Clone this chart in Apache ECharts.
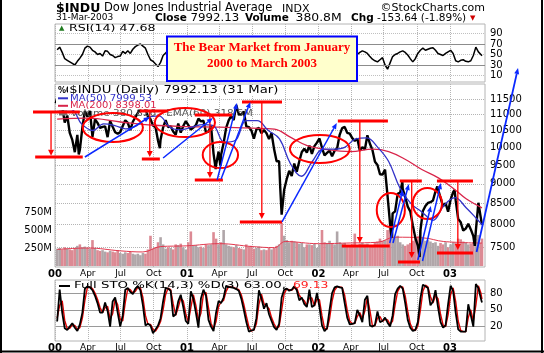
<!DOCTYPE html>
<html>
<head>
<meta charset="utf-8">
<script src="https://cdn.jsdelivr.net/npm/echarts@6.0.0/dist/echarts.min.js"></script>
<style>
html,body{margin:0;padding:0;background:#fff;}
#chart{width:544px;height:353px;}
</style>
</head>
<body>
<div id="chart"></div>
<script>
// ---------------- data ----------------
const firstWeek = '2000-01-07';   // weekly points (Fridays), last point is 31-Mar-2003
const lastDate = '2003-03-31';

const weeklyClose = [
11522,11722,11251,10739,10963,10425,10219,9862,10367,9929,10595,11112,10922,11111,10306,10844,10734,10577,10610,10627,10300,10794,10614,10449,10405,10448,10636,10813,10733,10512,10768,10908,11046,11192,11238,11195,10927,10847,10651,10596,10192,10226,10590,10817,10602,10630,10470,10373,10712,10435,10635,10787,
10662,10525,10587,10660,10864,10781,10799,10441,10466,10644,9823,9504,9879,9791,10127,10579,10811,10951,10822,11301,11005,10990,11091,10623,10604,10502,10253,10539,10577,10417,10512,10416,10241,10424,9950,9606,9606,8236,8848,9120,9345,9205,9545,9324,9608,9867,9960,9852,10049,9812,10035,10137,
10260,9988,9772,9841,9908,9745,9904,9969,10369,10573,10608,10427,10404,10271,10191,10257,9911,10007,9940,10354,10105,9925,9590,9503,9254,9243,9380,8685,8019,8264,8313,8745,8778,8872,8664,8427,8312,7986,7701,7529,7850,8322,8444,8518,8537,8579,8805,8896,8646,8434,8511,8304,
8602,8785,8587,8131,8054,7865,7909,8018,7891,7740,7859,8522,8146,7992.13
];
const intraweekPoints = [
['2000-01-03',11357],['2000-03-07',9796],['2000-09-06',11310],['2000-10-18',9975],
['2001-03-22',9389],['2001-04-04',9485],['2001-05-21',11337],['2001-09-17',8921],
['2002-03-19',10635],['2002-07-23',7702],['2002-08-22',9053],['2002-10-09',7286],
['2002-11-27',8931],['2003-01-14',8842],['2003-03-11',7524]
];
const weeklyVolumeM = [
240,250,230,260,240,230,220,250,280,300,260,270,250,240,360,250,220,210,220,200,190,210,200,190,220,180,170,190,180,200,170,160,170,150,180,170,230,420,240,260,330,400,300,240,260,250,230,300,290,310,260,230,
330,480,280,290,260,270,250,300,290,300,470,380,300,330,500,300,280,270,260,290,250,240,230,300,270,280,240,250,270,220,230,220,250,230,250,280,300,600,420,360,330,350,340,330,310,320,260,300,300,290,310,250,
300,500,330,320,350,310,300,480,330,310,320,290,280,300,450,290,310,320,300,310,290,280,330,340,380,350,360,500,600,480,400,420,330,300,280,300,320,350,380,420,500,400,350,360,340,320,330,280,320,300,330,260,
300,330,320,380,370,340,330,300,310,330,380,430,320,381
];
const rsi14 = [
59,64,54,42,39,36,33,30,37,43,50,62,66,64,58,55,50,52,47,57,56,50,48,44,46,47,56,52,57,52,60,65,68,70,66,62,50,40,37,32,27,35,48,53,58,50,52,45,44,55,48,56,
52,48,51,54,60,56,57,42,44,52,32,27,40,38,52,60,64,66,62,70,60,58,60,45,44,42,38,50,52,46,50,46,40,48,34,28,28,18,40,52,58,54,60,52,60,64,66,60,64,55,62,64,
66,52,45,48,51,45,52,55,68,70,69,60,59,55,50,50,54,57,55,52,46,41,38,36,40,44,30,22,34,46,50,52,55,57,54,49,42,36,42,52,58,62,58,60,62,63,58,52,50,48,52,55,
58,52,38,36,39,40,37,36,38,48,64,55,50,47.68
];
const stoK = [
29,86,45,17,14,20,26,18,12,24,45,88,92,90,85,75,62,45,45,63,48,20,65,72,45,20,40,86,89,82,
78,88,92,85,58,22,25,22,8,15,22,35,65,89,88,84,38,42,65,77,55,30,25,83,70,45,18,70,86,75,
32,20,12,45,66,62,72,93,91,90,89,87,84,70,50,28,11,13,14,35,85,70,52,62,42,30,19,14,25,72,
86,88,84,86,92,85,67,72,60,55,86,55,58,80,55,22,12,17,50,80,90,92,90,89,62,36,24,25,26,50,
40,28,68,75,22,20,23,47,28,30,36,27,20,40,78,88,93,88,62,32,18,12,14,28,70,95,92,89,58,65,
85,55,28,18,22,60,93,84,45,15,11,11,11,60,40,20,96,89,70,63
];
const stoD = [
35,58,66,31,16,17,23,22,15,18,35,67,90,91,88,80,69,54,45,54,56,34,43,69,59,33,30,63,88,86,
80,83,90,89,72,40,24,24,15,12,19,29,50,77,89,86,61,40,54,71,66,43,28,54,77,58,32,44,78,81,
54,26,16,29,56,64,67,83,92,91,90,88,86,77,60,39,20,12,14,25,60,78,61,57,52,36,25,17,20,49,
79,87,86,85,89,89,76,70,66,58,71,71,57,69,68,39,17,15,34,65,85,91,91,90,76,49,30,25,26,38,
45,34,48,72,49,21,22,35,38,29,33,32,24,30,59,83,91,91,75,47,25,15,13,21,49,83,94,91,74,62,
75,70,42,23,20,41,77,89,65,30,13,11,11,36,50,30,58,93,80,69.13
];
const ma50 = [
['2000-01-07',11150],['2000-02-15',11150],['2000-03-15',10700],['2000-04-15',10500],['2000-05-15',10700],['2000-06-15',10650],
['2000-07-15',10550],['2000-08-15',10650],['2000-09-15',10900],['2000-10-15',10950],['2000-11-15',10600],['2000-12-15',10520],
['2001-01-15',10600],['2001-02-15',10680],['2001-03-15',10650],['2001-04-15',10150],['2001-05-15',10200],['2001-06-15',10800],
['2001-07-15',10800],['2001-08-15',10500],['2001-09-15',10250],['2001-10-15',9550],['2001-11-15',9200],['2001-12-15',9600],
['2002-01-15',9950],['2002-02-15',9950],['2002-03-15',10000],['2002-04-15',10250],['2002-05-15',10280],['2002-06-15',10000],
['2002-07-15',9600],['2002-08-15',8900],['2002-09-15',8500],['2002-10-15',8300],['2002-11-15',8100],['2002-12-15',8450],
['2003-01-15',8650],['2003-02-15',8400],['2003-03-15',8150],['2003-03-31',7999.53]
];
const ma200 = [
['2000-01-07',10850],['2000-04-01',10880],['2000-07-01',10760],['2000-10-01',10660],['2001-01-01',10620],['2001-04-01',10600],
['2001-07-01',10570],['2001-09-01',10540],['2001-10-15',10300],['2001-12-01',10050],['2002-01-15',9950],['2002-04-01',9880],
['2002-06-01',9950],['2002-07-15',9880],['2002-09-01',9650],['2002-10-15',9380],['2002-12-01',9150],['2003-01-15',8850],
['2003-02-15',8620],['2003-03-31',8398.01]
];
const volumeEma60 = [
['2000-01-07',230],['2000-04-01',250],['2000-07-01',210],['2000-09-01',195],['2000-10-20',270],['2001-01-01',280],
['2001-04-01',310],['2001-07-01',270],['2001-09-01',255],['2001-10-01',340],['2002-01-01',310],['2002-04-01',320],
['2002-06-15',330],['2002-08-01',400],['2002-10-20',390],['2002-12-15',340],['2003-03-31',318.5]
];
const priceTicks = [7500,8000,8500,9000,9500,10000,10500,11000,11500];
const volumeTicks = [250,500,750];
const rsiTicks = [10,30,50,70,90];
const stoTicks = [20,50,80];
const quarterTicks = ['2000-01-01','2000-04-01','2000-07-01','2000-10-01','2001-01-01','2001-04-01','2001-07-01','2001-10-01','2002-01-01','2002-04-01','2002-07-01','2002-10-01','2003-01-01'];
const quarterLabels = ['00','Apr','Jul','Oct','01','Apr','Jul','Oct','02','Apr','Jul','Oct','03'];

// annotations drawn on the picture (date, price coordinates)
const redLevels = [ // [from, to, price]
['1999-11-01','2000-03-10',11075],['1999-11-07','2000-03-18',9726],
['2000-08-23','2000-11-09',11108],['2000-08-29','2000-10-18',9670],
['2001-01-23','2001-05-06',10980],['2001-01-23','2001-04-11',9101],
['2001-06-03','2001-09-22',11400],['2001-05-28','2001-09-22',8062],
['2002-02-24','2002-07-13',10791],['2002-03-07','2002-07-18',7522],
['2002-08-15','2002-10-15',9075],['2002-08-10','2002-10-10',7182],
['2002-11-26','2003-03-06',9075],['2002-11-26','2003-03-06',7371]
];
const redDrops = [ // [date, from price, to price]
['1999-12-21',11075,9760],['2000-09-20',11108,9726],['2001-03-06',10980,9154],['2001-07-28',11400,8131],
['2002-04-26',10791,7587],['2002-09-17',9075,7266],['2003-01-23',9075,7435]
];
const blueArrows = [ // [from date, from price, to date, to price]
['2000-03-24',9726,'2000-09-20',10917],['2000-10-27',9698,'2001-03-14',10886],
['2001-03-26',9101,'2001-05-20',11367],['2001-04-06',9128,'2001-06-26',11400],
['2001-09-22',8062,'2002-02-21',10729],['2002-07-18',7587,'2002-08-23',8842],
['2002-07-27',7587,'2002-09-09',8996],['2002-10-04',7224,'2002-11-09',8444],
['2002-10-17',7203,'2002-12-07',9023],['2003-03-16',7393,'2003-07-09',12576]
];
const ellipses = [ // [from date, to date, top price, bottom price]
['2000-03-18','2000-09-01',11044,10157],['2000-10-04','2001-03-20',11204,10303],
['2001-02-14','2001-05-23',10157,9422],['2001-10-14','2002-03-29',10364,9559],
['2002-06-12','2002-08-29',8766,7946],['2002-09-20','2002-12-10',8893,8131]
];

// ---------------- build ----------------
const DAY = 86400000;
const ts = s => Date.parse(s + 'T00:00:00Z');
const dates = [];
for (let i = 0; i < weeklyClose.length - 1; i++) dates.push(ts(firstWeek) + i * 7 * DAY);
dates.push(ts(lastDate));
const xMin = ts('2000-01-01');
const xMax = xMin + 1193.4 * DAY;
const lnMin = 8.86491, lnMax = 9.39334;
const quarterTs = quarterTicks.map(ts);
const FONT = 'DejaVu Sans';

const pricePts = dates.map((t, i) => [t, weeklyClose[i]])
  .concat(intraweekPoints.map(p => [ts(p[0]), p[1]]))
  .sort((a, b) => a[0] - b[0])
  .map(p => [p[0], Math.log(p[1])]);

function qFmt(v) {
  let k = -1;
  quarterTs.forEach((q, i) => { if (Math.abs(q - v) < DAY) k = i; });
  const s = k >= 0 ? quarterLabels[k] : '';
  return /^\d\d$/.test(s) ? '{y|' + s + '}' : s;
}
function dateAxis(gi, show) {
  return {
    type: 'value', gridIndex: gi, min: xMin, max: xMax,
    axisLine: {show: false},
    axisTick: {show: false, customValues: quarterTs},
    splitLine: {show: true, lineStyle: {color: '#b4b4b4', type: 'dotted', width: 1}},
    axisLabel: {show: show, customValues: quarterTs, margin: 2, formatter: qFmt,
      fontFamily: FONT, fontSize: 9, color: '#000', hideOverlap: false,
      rich: {y: {fontFamily: FONT, fontSize: 10, fontWeight: 'bold', color: '#000'}}}
  };
}
const lbl = {fontFamily: FONT, fontSize: 10, color: '#000'};

const option = {
  animation: false,
  backgroundColor: '#fff',
  grid: [
    {left: 55, top: 24, width: 430, height: 58, show: true, borderColor: '#b4b4b4', borderWidth: 1},
    {left: 55, top: 84, width: 430, height: 183, show: true, borderColor: '#b4b4b4', borderWidth: 1},
    {left: 55, top: 280, width: 430, height: 62, show: true, borderColor: '#b4b4b4', borderWidth: 1}
  ],
  xAxis: [dateAxis(0, false), dateAxis(1, true), dateAxis(2, true)],
  yAxis: [
    {gridIndex: 0, type: 'value', position: 'right', min: -2.4, max: 108.1,
     axisLine: {show: false}, axisTick: {show: false, customValues: rsiTicks},
     axisLabel: Object.assign({customValues: rsiTicks, margin: 5}, lbl),
     splitLine: {lineStyle: {color: '#c0c0c0', type: 'dotted'}}},
    {gridIndex: 1, type: 'value', position: 'right', min: lnMin, max: lnMax,
     axisLine: {show: false}, axisTick: {show: false, customValues: priceTicks.map(Math.log)},
     axisLabel: Object.assign({customValues: priceTicks.map(Math.log), margin: 5,
       formatter: v => String(Math.round(Math.exp(v)))}, lbl),
     splitLine: {lineStyle: {color: '#b4b4b4', type: 'dotted'}}},
    {gridIndex: 1, type: 'value', position: 'left', min: -14, max: 2528,
     axisLine: {show: false}, axisTick: {show: false},
     axisLabel: Object.assign({customValues: volumeTicks, margin: 3, formatter: v => v + 'M'}, lbl),
     splitLine: {show: false}},
    {gridIndex: 2, type: 'value', position: 'right', min: -5.8, max: 103.3,
     axisLine: {show: false}, axisTick: {show: false, customValues: stoTicks},
     axisLabel: Object.assign({customValues: stoTicks, margin: 5}, lbl),
     splitLine: {lineStyle: {color: '#9a9a9a', type: 'solid'}}}
  ],
  series: [
    {type: 'line', xAxisIndex: 0, yAxisIndex: 0, symbol: 'none', silent: true,
     data: dates.map((t, i) => [t, rsi14[i]]), lineStyle: {color: '#000', width: 1.5},
     markLine: {silent: true, symbol: 'none', label: {show: false},
       lineStyle: {color: '#8c8c8c', type: 'solid', width: 1},
       data: [{yAxis: 30}, {yAxis: 70}]}},
    {type: 'bar', xAxisIndex: 1, yAxisIndex: 2, barWidth: 2.6, silent: true,
     data: dates.map((t, i) => ({value: [t, weeklyVolumeM[i]],
       itemStyle: {color: (i > 0 && weeklyClose[i] < weeklyClose[i - 1]) ? '#dc8a94' : '#b0a6a9'}}))},
    {type: 'line', xAxisIndex: 1, yAxisIndex: 2, symbol: 'none', smooth: 0.4, silent: true,
     data: volumeEma60.map(p => [ts(p[0]), p[1]]), lineStyle: {color: '#e2384e', width: 1}},
    {id: 'price', type: 'line', xAxisIndex: 1, yAxisIndex: 1, symbol: 'none', silent: true,
     data: pricePts, lineStyle: {color: '#000', width: 2.4}},
    {type: 'line', xAxisIndex: 1, yAxisIndex: 1, symbol: 'none', smooth: 0.4, silent: true,
     data: ma200.map(p => [ts(p[0]), Math.log(p[1])]), lineStyle: {color: '#d8244a', width: 1.3}},
    {type: 'line', xAxisIndex: 1, yAxisIndex: 1, symbol: 'none', smooth: 0.4, silent: true,
     data: ma50.map(p => [ts(p[0]), Math.log(p[1])]), lineStyle: {color: '#3232c8', width: 1.3}},
    {type: 'line', xAxisIndex: 2, yAxisIndex: 3, symbol: 'none', silent: true,
     data: dates.map((t, i) => [t, stoD[i]]), lineStyle: {color: '#e00000', width: 1.4}},
    {type: 'line', xAxisIndex: 2, yAxisIndex: 3, symbol: 'none', silent: true,
     data: dates.map((t, i) => [t, stoK[i]]), lineStyle: {color: '#000', width: 1.8}}
  ]
};

const chart = echarts.init(document.getElementById('chart'), null, {renderer: 'canvas'});
chart.setOption(option);

// ---------------- overlays ----------------
const P = (d, p) => chart.convertToPixel({seriesIndex: 3}, [ts(d), Math.log(p)]);
const g = [];
function T(x, y, text, o) {
  o = o || {};
  const st = {text: text, x: 0, y: 0, fill: o.color || '#000', fontFamily: o.family || FONT,
    fontSize: o.size || 10, fontWeight: o.bold ? 'bold' : 'normal',
    align: o.align || 'left', verticalAlign: 'middle'};
  if (o.bg) { st.backgroundColor = o.bg; st.padding = [1, 1, 0, 1]; }
  g.push({type: 'text', x: x, y: y, scaleX: o.sx || 1, z: o.z || 100, silent: true, style: st});
}
function L(x1, y1, x2, y2, color, w, z) {
  g.push({type: 'line', silent: true, z: z || 120, shape: {x1, y1, x2, y2}, style: {stroke: color, lineWidth: w}});
}
function arrow(x1, y1, x2, y2, color, w, len, wid) {
  const dx = x2 - x1, dy = y2 - y1, n = Math.hypot(dx, dy) || 1;
  const ux = dx / n, uy = dy / n;
  const bx = x2 - ux * len, by = y2 - uy * len;
  L(x1, y1, bx, by, color, w);
  g.push({type: 'polygon', silent: true, z: 121,
    shape: {points: [[x2, y2], [bx - uy * wid / 2, by + ux * wid / 2], [bx + uy * wid / 2, by - ux * wid / 2]]},
    style: {fill: color}});
}

// frame
L(1, 0, 1, 353, '#000', 2, 300); L(542, 0, 542, 353, '#000', 2, 300); L(0, 351.5, 544, 351.5, '#000', 2, 300);

// header
T(56, 8.5, '$INDU', {bold: true, size: 12.5});
T(104, 8.5, 'Dow Jones Industrial Average', {size: 11.5});
T(282, 9, 'INDX', {size: 10, sx: 1.1});
T(485, 8.5, '\u00A9StockCharts.com', {size: 11, align: 'right'});
T(56, 18, '31-Mar-2003', {size: 9});
T(155, 18, 'Close', {bold: true, size: 10.5});
T(190.5, 18, '7992.13', {size: 10.5, sx: 1.12});
T(245, 18, 'Volume', {bold: true, size: 10.5});
T(295.5, 18, '380.8M', {size: 10.5, sx: 1.18});
T(351, 18, 'Chg', {bold: true, size: 10.5});
T(377, 18, '-153.64 (-1.89%)', {size: 10.5});
T(470, 18.5, '\u25BC', {size: 7, color: '#d00000'});

// RSI legend
T(59, 28.5, '\u25B2', {size: 7, color: '#1f7a1f'});
T(69, 28.5, 'RSI(14) 47.68', {size: 9.5, sx: 1.33});

// main legends
T(57, 90.5, '%0', {size: 8, bold: true, bg: '#fff'});
T(68, 90.5, '$INDU (Daily) 7992.13 (31 Mar)', {size: 10, sx: 1.32, bg: '#fff'});
g.push({type: 'rect', silent: true, z: 99, shape: {x: 56, y: 94, width: 102, height: 16}, style: {fill: '#fff'}});
L(58, 98.3, 68, 98.3, '#3232c8', 2, 101);
T(70, 98.3, 'MA(50) 7999.53', {size: 9.5, sx: 1.07, color: '#3232c8'});
L(58, 105.8, 68, 105.8, '#d8244a', 2, 101);
T(70, 105.8, 'MA(200) 8398.01', {size: 9.5, sx: 1.05, color: '#d8244a'});
g.push({type: 'rect', silent: true, z: 101, shape: {x: 59, y: 110.5, width: 8, height: 5}, style: {fill: '#777'}});
T(71, 113.3, 'volume 380,826   EMA(60) 318.5M', {size: 9.5, sx: 1.1, color: '#555'});

// STO legend
L(59, 286, 70, 286, '#000', 2, 101);
T(74, 286, 'Full STO %K(14,3) %D(3) 63.00,', {size: 9.5, sx: 1.4});
T(293, 286, '69.13', {size: 9.5, sx: 1.3, color: '#ff2020'});

// title box
g.push({type: 'rect', silent: true, z: 150, shape: {x: 167, y: 36.5, width: 190, height: 44.5},
  style: {fill: '#ffffcc', stroke: '#0000ff', lineWidth: 2}});
T(262, 47.5, 'The Bear Market from January', {size: 13, bold: true, family: 'Liberation Serif', color: '#ff0000', align: 'center', z: 151});
T(262, 63.5, '2000 to March 2003', {size: 13, bold: true, family: 'Liberation Serif', color: '#ff0000', align: 'center', z: 151});

// annotations
redLevels.forEach(r => { const a = P(r[0], r[2]), b = P(r[1], r[2]); L(a[0], a[1], b[0], b[1], '#ff0000', 3); });
redDrops.forEach(r => { const a = P(r[0], r[1]), b = P(r[0], r[2]); arrow(a[0], a[1], b[0], b[1], '#ff0000', 1.3, 6, 6); });
ellipses.forEach(e => {
  const a = P(e[0], e[2]), b = P(e[1], e[3]);
  g.push({type: 'ellipse', silent: true, z: 118,
    shape: {cx: (a[0] + b[0]) / 2, cy: (a[1] + b[1]) / 2, rx: Math.abs(b[0] - a[0]) / 2, ry: Math.abs(b[1] - a[1]) / 2},
    style: {fill: 'none', stroke: '#ff0000', lineWidth: 2}});
});
blueArrows.forEach((r, i) => {
  const a = P(r[0], r[1]), b = P(r[2], r[3]);
  arrow(a[0], a[1], b[0], b[1], '#0a28ff', i === blueArrows.length - 1 ? 1.8 : 1.5, 6, 5);
});

chart.setOption({graphic: {elements: g}});
</script>
</body>
</html>
